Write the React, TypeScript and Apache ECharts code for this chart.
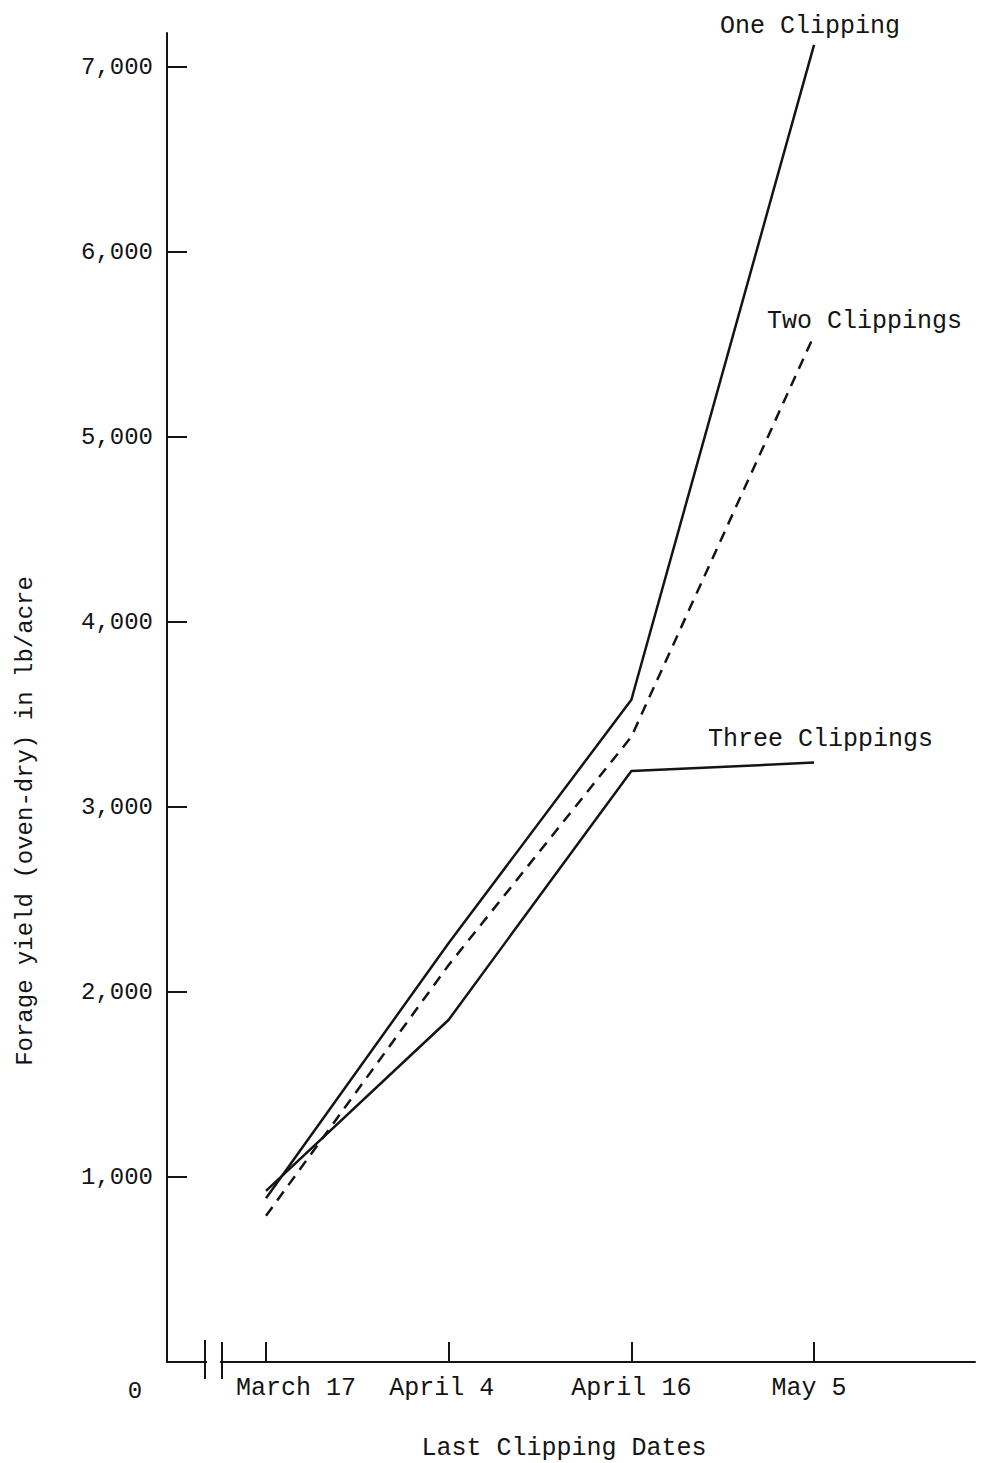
import React, { useEffect, useRef } from "react";
import * as echarts from "echarts";

const dates = ["March 17", "April 4", "April 16", "May 5"];
const datePositions = [1, 2, 3, 4];
const oneClipping = [885, 2265, 3580, 7120];
const twoClippings = [790, 2146, 3380, 5550];
const threeClippings = [925, 1850, 3195, 3240];
const yTicks = [1000, 2000, 3000, 4000, 5000, 6000, 7000];

const FONT = "'Liberation Mono', 'DejaVu Sans Mono', monospace";
const INK = "#141414";

const pairs = (vals: number[]) => vals.map((v, i) => [datePositions[i], v]);

export default function App() {
  const ref = useRef<HTMLDivElement>(null);
  useEffect(() => {
    if (!ref.current) return;
    const chart = echarts.init(ref.current, undefined, { renderer: "svg" });
    const labelKeys = ["a", "b", "c", "d"];
    chart.setOption({
      animation: false,
      backgroundColor: "#ffffff",
      grid: {
        left: 167,
        right: 15,
        top: 33,
        bottom: 101,
        containLabel: false,
        outerBoundsMode: "none",
      },
      xAxis: {
        type: "value",
        min: 0.458,
        max: 4.881,
        splitLine: { show: false },
        axisLine: { show: true, lineStyle: { color: INK, width: 2 } },
        axisTick: {
          show: true,
          inside: true,
          length: 20,
          customValues: datePositions,
          lineStyle: { color: INK, width: 2 },
        },
        axisLabel: {
          show: true,
          customValues: datePositions,
          margin: 14,
          color: INK,
          fontFamily: FONT,
          fontSize: 25,
          formatter: (v: number) => {
            const i = Math.round(v) - 1;
            return "{" + labelKeys[i] + "|" + dates[i] + "}";
          },
          rich: {
            a: { fontFamily: FONT, fontSize: 25, color: INK, padding: [0, 0, 0, 60] },
            b: { fontFamily: FONT, fontSize: 25, color: INK, padding: [0, 14, 0, 0] },
            c: { fontFamily: FONT, fontSize: 25, color: INK },
            d: { fontFamily: FONT, fontSize: 25, color: INK, padding: [0, 10, 0, 0] },
          },
        },
      },
      yAxis: {
        type: "value",
        min: 0,
        max: 7184,
        splitLine: { show: false },
        axisLine: { show: true, lineStyle: { color: INK, width: 2 } },
        axisTick: {
          show: true,
          inside: true,
          length: 20,
          customValues: yTicks,
          lineStyle: { color: INK, width: 2 },
        },
        axisLabel: {
          show: true,
          customValues: yTicks,
          margin: 14,
          color: INK,
          fontFamily: FONT,
          fontSize: 24,
          formatter: (v: number) => v.toLocaleString("en-US"),
        },
      },
      series: [
        {
          name: "One Clipping",
          type: "line",
          data: pairs(oneClipping),
          symbol: "none",
          lineStyle: { color: INK, width: 2.5 },
        },
        {
          name: "Two Clippings",
          type: "line",
          data: pairs(twoClippings),
          symbol: "none",
          lineStyle: { color: INK, width: 2.5, type: [11, 8] },
        },
        {
          name: "Three Clippings",
          type: "line",
          data: pairs(threeClippings),
          symbol: "none",
          lineStyle: { color: INK, width: 2.5 },
        },
      ],
      graphic: [
        {
          type: "rect",
          z: 100,
          shape: { x: 207, y: 1356, width: 13, height: 10 },
          style: { fill: "#ffffff" },
        },
        {
          type: "line",
          z: 101,
          shape: { x1: 205, y1: 1340, x2: 205, y2: 1379 },
          style: { stroke: INK, lineWidth: 2 },
        },
        {
          type: "line",
          z: 101,
          shape: { x1: 222, y1: 1342, x2: 222, y2: 1379 },
          style: { stroke: INK, lineWidth: 2 },
        },
        {
          type: "text",
          z: 101,
          x: 135,
          y: 1391,
          style: { text: "0", fontFamily: FONT, fontSize: 24, fill: INK, align: "center", verticalAlign: "middle" },
        },
        {
          type: "text",
          z: 101,
          x: 25,
          y: 821,
          rotation: Math.PI / 2,
          style: {
            text: "Forage yield (oven-dry) in lb/acre",
            fontFamily: FONT,
            fontSize: 24,
            fill: INK,
            align: "center",
            verticalAlign: "middle",
          },
        },
        {
          type: "text",
          z: 101,
          x: 564,
          y: 1448,
          style: {
            text: "Last Clipping Dates",
            fontFamily: FONT,
            fontSize: 25,
            fill: INK,
            align: "center",
            verticalAlign: "middle",
          },
        },
        {
          type: "text",
          z: 101,
          x: 720,
          y: 26,
          style: { text: "One Clipping", fontFamily: FONT, fontSize: 25, fill: INK, align: "left", verticalAlign: "middle" },
        },
        {
          type: "text",
          z: 101,
          x: 767,
          y: 321,
          style: { text: "Two Clippings", fontFamily: FONT, fontSize: 25, fill: INK, align: "left", verticalAlign: "middle" },
        },
        {
          type: "text",
          z: 101,
          x: 708,
          y: 739,
          style: { text: "Three Clippings", fontFamily: FONT, fontSize: 25, fill: INK, align: "left", verticalAlign: "middle" },
        },
      ],
    });
    return () => chart.dispose();
  }, []);
  return (
    <div
      ref={ref}
      style={{ position: "fixed", left: 0, top: 0, width: 990, height: 1463, background: "#fff" }}
    />
  );
}
